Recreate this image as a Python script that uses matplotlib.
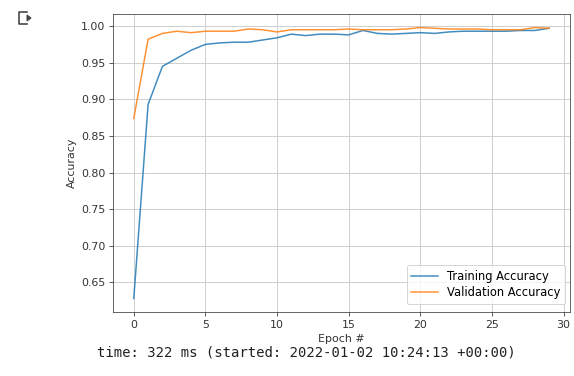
import matplotlib
matplotlib.use("Agg")
import matplotlib.pyplot as plt
from matplotlib.lines import Line2D
from matplotlib.patches import Polygon

epochs = list(range(30))
train_acc = [0.628, 0.893, 0.945, 0.956, 0.967, 0.975, 0.977, 0.978, 0.978, 0.981,
             0.984, 0.989, 0.987, 0.989, 0.989, 0.988, 0.994, 0.990, 0.989, 0.990,
             0.991, 0.990, 0.992, 0.993, 0.993, 0.993, 0.993, 0.994, 0.994, 0.997]
val_acc = [0.874, 0.982, 0.990, 0.993, 0.991, 0.993, 0.993, 0.993, 0.996, 0.995,
           0.992, 0.995, 0.995, 0.995, 0.995, 0.996, 0.995, 0.995, 0.995, 0.996,
           0.998, 0.997, 0.996, 0.996, 0.996, 0.995, 0.995, 0.995, 0.998, 0.997]
timing_text = "time: 322 ms (started: 2022-01-02 10:24:13 +00:00)"

W, H = 574, 376
DPI = 72
fig = plt.figure(figsize=(W / DPI, H / DPI), dpi=DPI)
fs = 11

ax = fig.add_axes([113 / W, 1 - 312 / H, (570 - 113) / W, (312 - 14) / H])
ax.plot(epochs, train_acc, color="#1f77b4", lw=1.5, alpha=0.85, label="Training Accuracy")
ax.plot(epochs, val_acc, color="#ff7f0e", lw=1.5, alpha=0.85, label="Validation Accuracy")
ax.grid(True, color="#d0d0d0", lw=1)
ax.set_axisbelow(True)
ax.set_xticks([0, 5, 10, 15, 20, 25, 30])
yt = [0.65, 0.70, 0.75, 0.80, 0.85, 0.90, 0.95, 1.00]
ax.set_yticks(yt)
ax.set_yticklabels([f"{v:.2f}" for v in yt])
ax.tick_params(labelsize=fs, colors="#333333", length=4)
ax.set_xlabel("Epoch #", fontsize=fs, color="#333333")
ax.set_ylabel("Accuracy", fontsize=fs, color="#333333")
for s in ax.spines.values():
    s.set_color("#444444")
ax.legend(loc="lower right", fontsize=11.5, handlelength=2.3, labelspacing=0.3,
          bbox_to_anchor=(1.0, 0.01), borderaxespad=0.45)

fig.text(97 / W, 1 - 353 / H, timing_text, family="DejaVu Sans Mono",
         fontsize=13.9, color="#212121", va="center", ha="left")

# Colab output icon
ic = "#424242"
x0, x1, y0, y1 = 19 / W, 27 / W, 1 - 12 / H, 1 - 24 / H
fig.add_artist(Line2D([x1, x0, x0, x1], [y0, y0, y1, y1], color=ic, lw=1.6,
                      transform=fig.transFigure))
fig.add_artist(Polygon([[27 / W, 1 - 15 / H], [31 / W, 1 - 18 / H], [27 / W, 1 - 21 / H]],
                       closed=True, color=ic, transform=fig.transFigure))

fig.savefig("out.png", dpi=DPI)
